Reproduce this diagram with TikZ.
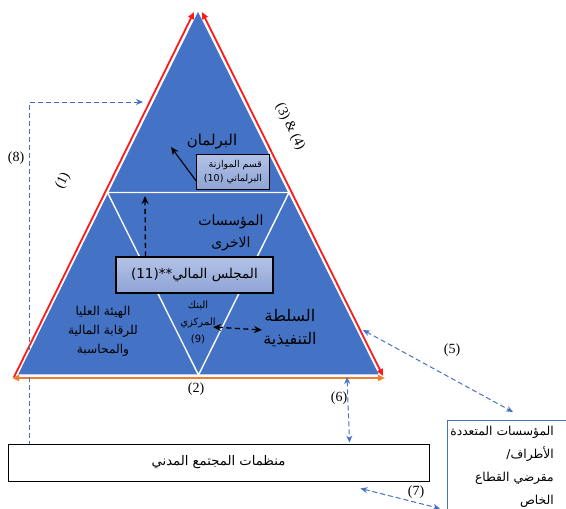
\documentclass[tikz,border=0pt]{standalone}
\usepackage{fontspec}
\setmainfont{Liberation Serif}
\newfontfamily\arabicfont[Script=Arabic]{DejaVu Sans}
\TeXXeTstate=1
\usetikzlibrary{arrows.meta,calc,positioning}
\definecolor{triblue}{HTML}{4472C4}
\definecolor{boxtop}{HTML}{B3C2E6}
\definecolor{boxbot}{HTML}{8EA4D6}
\definecolor{edgered}{HTML}{FF1A1A}
\definecolor{baseorange}{HTML}{ED7D31}
\newcommand{\rtl}[1]{\beginR #1\endR}
\newcommand{\arsize}[2]{\arabicfont\fontsize{#1}{#2}\selectfont}

\begin{document}
\begin{tikzpicture}[x=1pt, y=-1pt,
  lbl/.style={font=\arsize{13.5}{18}, align=center, inner sep=1pt},
  small/.style={font=\arsize{9.5}{14}, align=center, inner sep=1pt},
  num/.style={font=\fontsize{14}{16}\selectfont, inner sep=1pt},
  panel/.style={draw=black, line width=1.1pt, top color=boxtop, bottom color=boxbot, align=center},
  redarr/.style={edgered, line width=1.8pt},
  bluearr/.style={triblue, line width=1pt, dash pattern=on 5pt off 3pt, {Stealth[length=7pt,width=6pt]}-{Stealth[length=7pt,width=6pt]}},
  blkarr/.style={black, line width=1.3pt, dash pattern=on 5pt off 3.5pt, -{Stealth[length=8pt,width=7pt]}}
]
  \useasboundingbox (0,0) rectangle (566,509);
  \clip (0,0) rectangle (566,509);

  % triangle
  \coordinate (apex) at (198,10);
  \coordinate (bl) at (17,375);
  \coordinate (br) at (380,375);
  \coordinate (ml) at ($(bl)!0.5!(apex)$);
  \coordinate (mr) at ($(br)!0.5!(apex)$);
  \coordinate (mb) at ($(bl)!0.5!(br)$);
  \fill[triblue] (apex) -- (br) -- (bl) -- cycle;
  \draw[white, line width=1.4pt] (apex) -- (br) -- (bl) -- cycle;
  \draw[white, line width=1.4pt] (ml) -- (mr) -- (mb) -- cycle;

  % edges
  \draw[redarr, -{Triangle[length=7pt,width=6pt]}] (14,377) -- (194,12);
  \draw[redarr, {Triangle[length=7pt,width=6pt]}-{Triangle[length=7pt,width=6pt]}] (202,12) -- (383,376);
  \draw[baseorange, line width=1.8pt, {Triangle[length=7pt,width=6pt]}-{Triangle[length=7pt,width=6pt]}] (12,378) -- (385,378);

  % labels inside
  \node[lbl, font=\arsize{15}{18}] (parl) at (212,142) {\rtl{البرلمان}};
  \node[panel, small, minimum width=73pt, minimum height=35pt, inner sep=2pt, align=right] (budget) at (233,172)
    {\rtl{قسم الموازنة}\\\rtl{البرلماني (10)}};
  \node[lbl, font=\arsize{14}{22}] (other) at (231,233) {\rtl{المؤسسات}\\\rtl{الاخرى}};
  \node[panel, lbl, font=\arsize{13.5}{18}, minimum width=157pt, minimum height=36pt] (council) at (194.5,275)
    {\rtl{المجلس المالي**(11)}};
  \node[small, font=\arsize{10}{17}] (bank) at (198,322) {\rtl{البنك}\\\rtl{المركزي}\\(9)};
  \node[lbl, font=\arsize{16}{23}] (exec) at (290,328) {\rtl{السلطة}\\\rtl{التنفيذية}};
  \node[lbl, font=\arsize{12.2}{19}] (audit) at (103,331)
    {\rtl{الهيئة العليا}\\\rtl{للرقابة المالية}\\\rtl{والمحاسبة}};

  \coordinate (parltip) at (171,147);
  \coordinate (othertip) at (145,196);
  \draw[black, line width=1.1pt, -{Stealth[length=8pt,width=7pt]}] ($(budget.south west)!0.26!(budget.north west)$) -- (parltip);
  \draw[blkarr] ($(council.north west)!0.19!(council.north east)$) -- (othertip);
  \draw[blkarr, {Stealth[length=8pt,width=7pt]}-{Stealth[length=8pt,width=7pt]}] (213,327) -- (262,330);

  % numbers
  \node[num] (n1) at (63,181) [rotate=63.7] {(1)};
  \node[num] (n2) at (196,389) {(2)};
  \node[num] (n34) at (290,127) [rotate=-63.7] {(3) \& (4)};
  \node[num] (n5) at (452,350) {(5)};
  \node[num] (n6) at (339,398) {(6)};
  \node[num] (n7) at (416,492) {(7)};
  \node[num] (n8) at (16,158) {(8)};

  % outside boxes
  \node[draw=black, line width=0.9pt, fill=white, minimum width=421pt, minimum height=37pt, lbl, font=\arsize{13.2}{16}] (civil) at (218.5,462.5)
    {\rtl{منظمات المجتمع المدني}};
  \node[draw=triblue, line width=1pt, anchor=north west, minimum width=140pt, minimum height=110pt] (mdbbox) at (447,420) {};
  \node[lbl, font=\arsize{12.3}{23}, anchor=north east, align=right] (mdb) at (555,425)
    {\rtl{المؤسسات المتعددة}\\\rtl{الأطراف/}\\\rtl{مقرضي القطاع}\\\rtl{الخاص}};

  % links
  \coordinate (c8) at ($(civil.north west)+(22,0)$);
  \coordinate (p8) at (143,102);
  \draw[bluearr, {Stealth[length=7pt,width=6pt]}-] (p8) -| (c8);
  \draw[bluearr] (363,330) -- ($(mdbbox.north west)+(66,-8)$);
  \draw[bluearr] (347,377) -- ($(civil.north west)+(342,-1)$);
  \draw[bluearr] ($(civil.south east)+(-69,7)$) -- ($(mdbbox.west)+(-7,33)$);
\end{tikzpicture}
\end{document}
